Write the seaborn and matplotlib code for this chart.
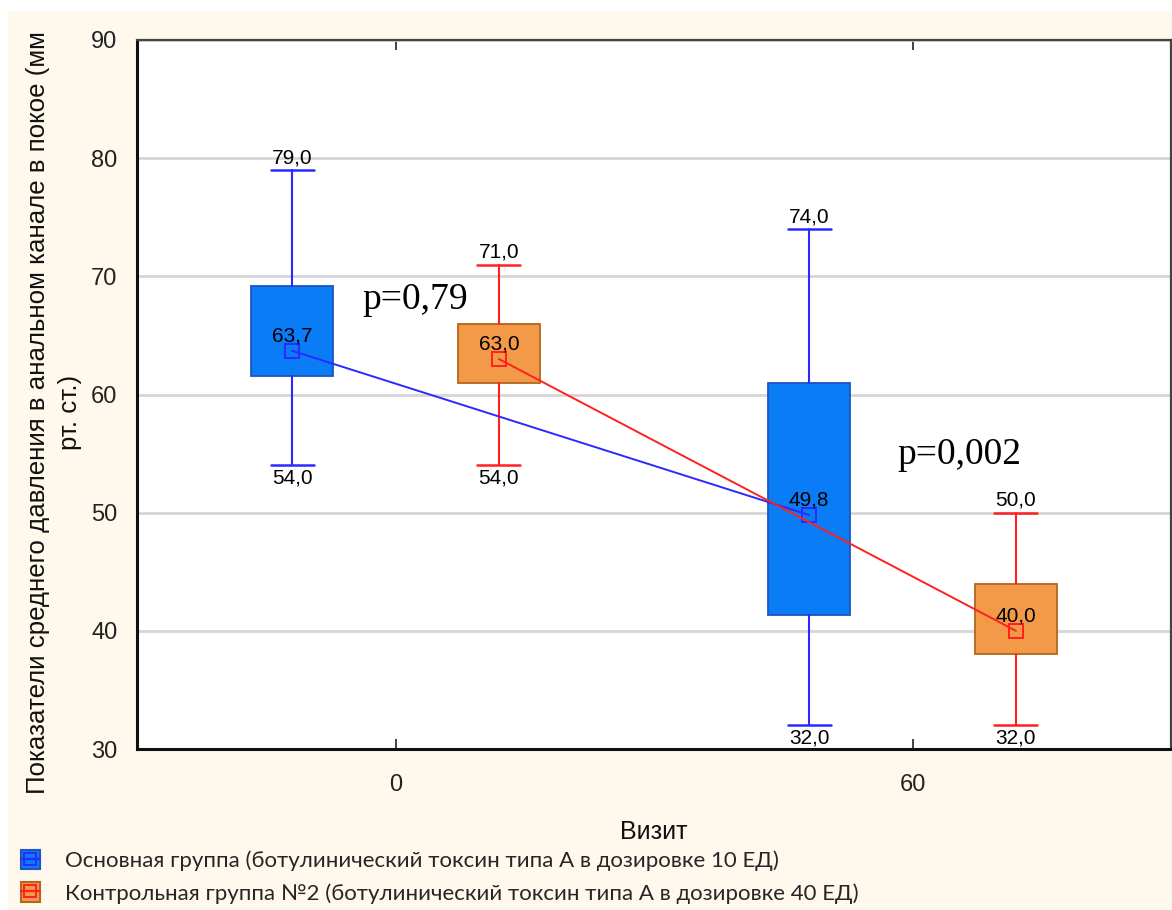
import matplotlib
matplotlib.use("Agg")
import matplotlib.pyplot as plt
from matplotlib.patches import Rectangle, Patch
from matplotlib.lines import Line2D
from matplotlib.legend_handler import HandlerTuple
import numpy as np
import pandas as pd
import seaborn as sns

# --- data -------------------------------------------------------------
visits = [0, 60]
group_names = [
    "Основная группа (ботулинический токсин типа А в дозировке 10 ЕД)",
    "Контрольная группа №2 (ботулинический токсин типа А в дозировке 40 ЕД)",
]
main_mean = [63.7, 49.8]
main_q1 = [61.6, 41.3]
main_q3 = [69.2, 61.0]
main_min = [54.0, 32.0]
main_max = [79.0, 74.0]

ctrl_mean = [63.0, 40.0]
ctrl_q1 = [61.0, 38.0]
ctrl_q3 = [66.0, 44.0]
ctrl_min = [54.0, 32.0]
ctrl_max = [71.0, 50.0]

p_labels = ["p=0,79", "p=0,002"]

# --- style ------------------------------------------------------------
sns.set_theme(style="white")
plt.rcParams["font.family"] = ["Liberation Sans", "DejaVu Sans"]

BLUE_FILL, BLUE_EDGE, BLUE_LINE = "#0a7cf6", "#1f55c0", "#2a2aff"
ORNG_FILL, ORNG_EDGE, RED_LINE = "#f39a48", "#b5651d", "#ff2020"
CREAM = "#fef9ec"

fig = plt.figure(figsize=(11.72, 9.10), dpi=100, facecolor="white")
fig.patches.append(Rectangle((8 / 1172, 0), 1, 1 - 11 / 910,
                             transform=fig.transFigure, facecolor=CREAM,
                             edgecolor="none", zorder=-10))
ax = fig.add_axes([137 / 1172, 1 - 749 / 910, 1034 / 1172, 709 / 910])
ax.set_facecolor("white")

offset = 12.0
box_w = 9.6
cap_w = 5.0


def fmt(v):
    return f"{v:.1f}".replace(".", ",")


groups = [
    dict(mean=main_mean, q1=main_q1, q3=main_q3, lo=main_min, hi=main_max,
         dx=-offset, fill=BLUE_FILL, edge=BLUE_EDGE, line=BLUE_LINE),
    dict(mean=ctrl_mean, q1=ctrl_q1, q3=ctrl_q3, lo=ctrl_min, hi=ctrl_max,
         dx=offset, fill=ORNG_FILL, edge=ORNG_EDGE, line=RED_LINE),
]

for name, g in zip(group_names, groups):
    pos = [v + g["dx"] for v in visits]
    stats = [dict(med=m, q1=a, q3=b, whislo=lo, whishi=hi, fliers=[])
             for m, a, b, lo, hi in zip(g["mean"], g["q1"], g["q3"], g["lo"], g["hi"])]
    ax.bxp(stats, positions=pos, widths=box_w, capwidths=cap_w,
           patch_artist=True, showfliers=False, manage_ticks=False,
           boxprops=dict(facecolor=g["fill"], edgecolor=g["edge"], linewidth=1.3),
           whiskerprops=dict(color=g["line"], linewidth=1.5),
           capprops=dict(color=g["line"], linewidth=1.8),
           medianprops=dict(linewidth=0), zorder=2)
    df = pd.DataFrame({"x": pos, "y": g["mean"]})
    sns.lineplot(data=df, x="x", y="y", ax=ax, color=g["line"], linewidth=1.4,
                 marker="s", markersize=10, markerfacecolor="none",
                 markeredgecolor=g["line"], markeredgewidth=1.4, zorder=4)
    for x, m, lo, hi in zip(pos, g["mean"], g["lo"], g["hi"]):
        ax.annotate(fmt(m), (x, m), xytext=(0, 4), textcoords="offset points",
                    ha="center", va="bottom", fontsize=15, color="black", zorder=5)
        ax.annotate(fmt(hi), (x, hi), xytext=(0, 2), textcoords="offset points",
                    ha="center", va="bottom", fontsize=15, color="black", zorder=5)
        ax.annotate(fmt(lo), (x, lo), xytext=(0, -2), textcoords="offset points",
                    ha="center", va="top", fontsize=15, color="black", zorder=5)

# p-values
ax.text(-3.9, 68.0, p_labels[0], family="Liberation Serif", fontsize=27,
        ha="left", va="center", color="black")
ax.text(58.2, 54.9, p_labels[1], family="Liberation Serif", fontsize=27,
        ha="left", va="center", color="black")

# axes
ax.set_xlim(-30, 90)
ax.set_ylim(30, 90)
ax.set_xticks(visits)
ax.set_yticks(np.arange(30, 91, 10))
ax.yaxis.grid(True, color="#d6d6d6", linewidth=2)
ax.xaxis.grid(False)
ax.set_axisbelow(True)
ax.tick_params(axis="x", direction="in", length=7, width=1.2, top=True,
               bottom=True, labelsize=17, pad=18, colors="#222222")
ax.tick_params(axis="y", length=0, labelsize=17, pad=14, colors="#222222")
for s in ["left", "bottom"]:
    ax.spines[s].set_color("#111111")
    ax.spines[s].set_linewidth(2.2)
for s in ["top", "right"]:
    ax.spines[s].set_color("#444444")
    ax.spines[s].set_linewidth(1.6)

ax.set_xlabel("Визит", fontsize=18, labelpad=17, color="#111111")
ax.set_ylabel("Показатели среднего давления в анальном канале в покое (мм\nрт. ст.)",
              fontsize=18.6, color="#111111", linespacing=1.45)
ax.yaxis.set_label_coords(-0.053, 0.475)

# legend
handles = []
for g in groups:
    patch = Patch(facecolor=g["fill"], edgecolor=g["edge"], linewidth=1.5)
    mk = Line2D([], [], color=g["line"], linewidth=1.6, marker="s", markersize=8,
                markerfacecolor="none", markeredgecolor=g["line"], markeredgewidth=1.4)
    handles.append((patch, mk))
leg = fig.legend(handles, group_names, handler_map={tuple: HandlerTuple(ndivide=1, pad=0)},
                 loc="upper left", bbox_to_anchor=(21 / 1172, 1 - 850 / 910), frameon=False,
                 prop=dict(family="Lato", size=16), handlelength=0.85, handleheight=0.95,
                 handletextpad=1.15, labelspacing=0.5, borderaxespad=0, borderpad=0)

fig.savefig("out.png", dpi=100, facecolor=fig.get_facecolor())
